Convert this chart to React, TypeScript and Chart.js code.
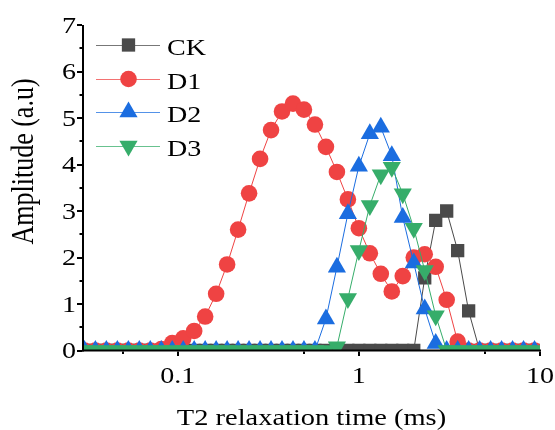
import React, { useEffect, useRef } from 'react';
import { Chart, registerables } from 'chart.js';

Chart.register(...registerables);

// T2 relaxation times (ms) of the inversion grid inside the plotted window
const t2Times = [
  0.03054, 0.03511, 0.04037, 0.04642, 0.05337, 0.06136, 0.07055, 0.08111,
  0.09326, 0.10723, 0.12328, 0.14175, 0.16298, 0.18738, 0.21544, 0.24771,
  0.2848, 0.32745, 0.37649, 0.43288, 0.4977, 0.57224, 0.65793, 0.75646,
  0.86975, 1.0, 1.1498, 1.3219, 1.5199, 1.7475, 2.0092, 2.3101,
  2.6561, 3.0539, 3.5112, 4.037, 4.6416, 5.3367, 6.1359, 7.0548,
  8.1113, 9.326,
];

const ckAmp = [
  0, 0, 0, 0, 0, 0, 0, 0,
  0, 0, 0, 0, 0, 0, 0, 0,
  0, 0, 0, 0, 0, 0, 0, 0,
  0, 0, 0, 0, 0, 0, 0, 1.56,
  2.8, 3.0, 2.15, 0.85, 0, 0, 0, 0,
  0, 0,
];

const d1Amp = [
  0, 0, 0, 0, 0, 0, 0, 0.03,
  0.16, 0.26, 0.42, 0.73, 1.22, 1.85, 2.6, 3.38,
  4.12, 4.74, 5.14, 5.31, 5.18, 4.86, 4.38, 3.84,
  3.25, 2.63, 2.09, 1.65, 1.27, 1.6, 2.0, 2.07,
  1.8, 1.09, 0.19, 0, 0, 0, 0, 0,
  0, 0,
];

const d2Amp = [
  0, 0, 0, 0, 0, 0, 0, 0,
  0, 0, 0, 0, 0, 0, 0, 0,
  0, 0, 0, 0, 0, 0, 0.68, 1.79,
  2.94, 3.96, 4.66, 4.8, 4.19, 2.86, 1.88, 0.89,
  0.15, 0, 0, 0, 0, 0, 0, 0,
  0, 0,
];

const d3Amp = [
  0, 0, 0, 0, 0, 0, 0, 0,
  0, 0, 0, 0, 0, 0, 0, 0,
  0, 0, 0, 0, 0, 0, 0, 0.08,
  1.12, 2.15, 3.12, 3.78, 3.94, 3.37, 2.63, 1.72,
  0.75, 0, 0, 0, 0, 0, 0, 0,
  0, 0,
];

const seriesNames = ['CK', 'D1', 'D2', 'D3'];
const seriesColors = ['#4a4a4a', '#ef4343', '#1b6de0', '#36ad6a'];
const seriesAmps = [ckAmp, d1Amp, d2Amp, d3Amp];

const yMajorTicks = [0, 1, 2, 3, 4, 5, 6, 7];
const yTickLabels = ['0', '1', '2', '3', '4', '5', '6', '7'];
const xMajorTicks = [0.1, 1, 10];
const xTickLabels = ['0.1', '1', '10'];
const xMinorTicks = [0.05, 0.5, 5];

const xTitle = 'T2 relaxation time (ms)';
const yTitle = 'Amplitude (a.u)';

const SERIF = '"Liberation Serif", "Times New Roman", serif';
const STRETCH = 1.22;

type Marker = 'rect' | 'circle' | 'up' | 'down';
const markers: Marker[] = ['rect', 'circle', 'up', 'down'];
const markerRadius = [9.4, 8.3, 10.5, 10.5];

function drawWideText(
  ctx: CanvasRenderingContext2D,
  text: string,
  x: number,
  y: number,
  align: CanvasTextAlign,
  sx: number
) {
  ctx.save();
  ctx.translate(x, y);
  ctx.scale(sx, 1);
  ctx.textAlign = align;
  ctx.textBaseline = 'alphabetic';
  ctx.fillText(text, 0, 0);
  ctx.restore();
}

function drawMarker(ctx: CanvasRenderingContext2D, kind: Marker, cx: number, cy: number, r: number) {
  ctx.beginPath();
  if (kind === 'rect') {
    const h = r * Math.SQRT1_2;
    ctx.rect(cx - h, cy - h, 2 * h, 2 * h);
  } else if (kind === 'circle') {
    ctx.arc(cx, cy, r, 0, Math.PI * 2);
  } else {
    const s = kind === 'up' ? 1 : -1;
    ctx.moveTo(cx, cy - s * r);
    ctx.lineTo(cx + r * 0.866, cy + s * r / 2);
    ctx.lineTo(cx - r * 0.866, cy + s * r / 2);
    ctx.closePath();
  }
  ctx.fill();
}

const framePlugin = {
  id: 'frame',
  afterDatasetsDraw(chart: any) {
    const ctx: CanvasRenderingContext2D = chart.ctx;
    const { left, right, top, bottom } = chart.chartArea;
    const xs = chart.scales.x;
    const ys = chart.scales.y;
    ctx.save();
    ctx.fillStyle = '#000';

    // axis lines
    ctx.fillRect(left - 1, top, 2, bottom - top + 1);
    ctx.fillRect(left - 1, bottom - 1, right - left + 2, 2);

    // y ticks: integers outward, halves short
    for (let v = 0; v <= 7.001; v += 0.5) {
      const y = Math.round(ys.getPixelForValue(v));
      const major = Math.abs(v - Math.round(v)) < 1e-6;
      const len = major ? 5 : 2.5;
      ctx.fillRect(left - 1 - len, y - 1, len, 2);
    }
    // x ticks
    xMajorTicks.forEach((v) => {
      const x = Math.round(xs.getPixelForValue(v));
      ctx.fillRect(x - 1, bottom + 1, 2, 4.5);
    });
    xMinorTicks.forEach((v) => {
      const x = Math.round(xs.getPixelForValue(v));
      ctx.fillRect(x - 1, bottom + 1, 2, 2.5);
    });

    // tick labels
    ctx.font = `23px ${SERIF}`;
    yMajorTicks.forEach((v, k) => {
      const y = ys.getPixelForValue(v);
      drawWideText(ctx, yTickLabels[k], left - 7, y + 7.8, 'right', STRETCH);
    });
    xMajorTicks.forEach((v, k) => {
      const x = xs.getPixelForValue(v);
      drawWideText(ctx, xTickLabels[k], x, 383, 'center', STRETCH);
    });

    // axis titles
    ctx.font = `23.5px ${SERIF}`;
    drawWideText(ctx, xTitle, (left + right) / 2, 425, 'center', 1.21);

    ctx.save();
    ctx.font = `26px ${SERIF}`;
    ctx.translate(33, 161.5);
    ctx.rotate(-Math.PI / 2);
    ctx.scale(1, 1.2);
    ctx.textAlign = 'center';
    ctx.textBaseline = 'alphabetic';
    ctx.fillText(yTitle, 0, 0);
    ctx.restore();

    // legend
    const rows = [45, 79, 112, 146];
    seriesNames.forEach((name, k) => {
      const ry = rows[k];
      ctx.strokeStyle = seriesColors[k];
      ctx.globalAlpha = 0.75;
      ctx.lineWidth = 1;
      ctx.beginPath();
      ctx.moveTo(96, ry + 0.5);
      ctx.lineTo(160, ry + 0.5);
      ctx.stroke();
      ctx.globalAlpha = 1;
      ctx.fillStyle = seriesColors[k];
      drawMarker(ctx, markers[k], 128.5, ry, markerRadius[k]);
      ctx.fillStyle = '#000';
      ctx.font = `23px ${SERIF}`;
      drawWideText(ctx, name, 167, ry + 9.7, 'left', STRETCH);
    });

    ctx.restore();
  },
};

export default function App() {
  const canvasRef = useRef<HTMLCanvasElement | null>(null);

  useEffect(() => {
    const canvas = canvasRef.current;
    if (!canvas) return;

    const pointStyles = ['rect', 'circle', 'triangle', 'triangle'];
    const rotations = [0, 0, 0, 180];
    const drawOrder = [4, 3, 2, 1];

    const datasets = seriesNames.map((name, k) => ({
      label: name,
      data: t2Times.map((x, j) => ({ x, y: seriesAmps[k][j] })),
      borderColor: seriesColors[k],
      backgroundColor: seriesColors[k],
      borderWidth: 1,
      pointStyle: pointStyles[k] as any,
      pointRadius: markerRadius[k],
      pointRotation: rotations[k],
      pointBackgroundColor: seriesColors[k],
      pointBorderColor: seriesColors[k],
      pointBorderWidth: 0,
      tension: 0,
      fill: false,
      order: drawOrder[k],
    }));

    const chart = new Chart(canvas, {
      type: 'line',
      data: { datasets },
      options: {
        animation: false,
        responsive: false,
        devicePixelRatio: 1,
        events: [],
        layout: { padding: { top: 25, right: 15, left: 0, bottom: 0 } },
        plugins: {
          legend: { display: false },
          tooltip: { enabled: false },
        },
        scales: {
          x: {
            type: 'logarithmic',
            min: 0.03,
            max: 10,
            grid: { display: false },
            border: { display: false },
            ticks: { display: false },
            afterFit: (s: any) => {
              s.height = 79.5;
            },
          },
          y: {
            type: 'linear',
            min: 0,
            max: 7,
            grid: { display: false },
            border: { display: false },
            ticks: { display: false },
            afterFit: (s: any) => {
              s.width = 83;
            },
          },
        },
      },
      plugins: [framePlugin],
    } as any);

    return () => chart.destroy();
  }, []);

  return (
    <div style={{ position: 'fixed', left: 0, top: 0, width: 555, height: 430, background: '#fff' }}>
      <canvas ref={canvasRef} width={555} height={430} style={{ display: 'block' }} />
    </div>
  );
}
